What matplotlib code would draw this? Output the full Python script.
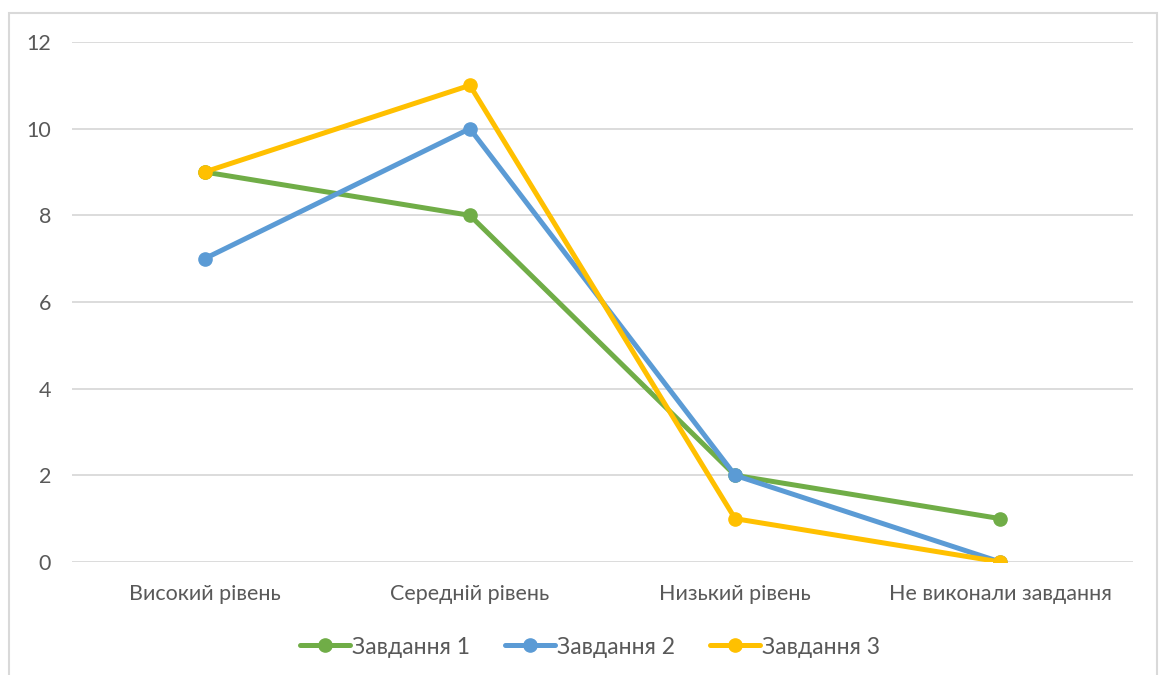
import matplotlib.pyplot as plt
from matplotlib.patches import Rectangle

categories = ['Високий рівень', 'Середній рівень', 'Низький рівень', 'Не виконали завдання']
task1 = [9, 8, 2, 1]
task2 = [7, 10, 2, 0]
task3 = [9, 11, 1, 0]
series_names = ['Завдання 1', 'Завдання 2', 'Завдання 3']
colors = ['#70AD47', '#5B9BD5', '#FFC000']

plt.rcParams['font.family'] = ['Lato', 'DejaVu Sans']
text_color = '#595959'

fig = plt.figure(figsize=(11.65, 6.75), dpi=100)
ax = fig.add_axes([72 / 1165, 1 - 562 / 675, (1133 - 72) / 1165, (562 - 42) / 675])

# outer chart border
fig.patches.append(Rectangle((9 / 1165, -0.05), (1157 - 9) / 1165, (675 - 13) / 675 + 0.05,
                             transform=fig.transFigure, fill=False,
                             edgecolor='#D9D9D9', linewidth=1.5))

x = range(len(categories))
for i, (vals, name, c) in enumerate(zip([task1, task2, task3], series_names, colors)):
    ax.plot(x, vals, color=c, linewidth=3.6, marker='o', markersize=9.5,
            label=name, zorder=3 + i, solid_capstyle='round')

ax.set_xlim(-0.5, len(categories) - 0.5)
ax.set_ylim(0, 12)
ax.set_yticks(range(0, 13, 2))
ax.set_xticks(list(x))
ax.set_xticklabels(categories)
ax.grid(axis='y', color='#D9D9D9', linewidth=1.3)
ax.set_axisbelow(True)
for s in ax.spines.values():
    s.set_visible(False)
ax.tick_params(axis='both', length=0, labelsize=15.5, labelcolor=text_color)
ax.tick_params(axis='y', pad=15)
ax.tick_params(axis='x', pad=16)
for lbl in ax.get_yticklabels():
    lbl.set_horizontalalignment('right')

fig.legend(loc='center', bbox_to_anchor=(590 / 1165, 1 - 647 / 675), ncol=3,
           frameon=False, fontsize=16.5, labelcolor=text_color,
           handlelength=2.2, handletextpad=0.1, columnspacing=1.5)

fig.savefig('out.png', dpi=100)
